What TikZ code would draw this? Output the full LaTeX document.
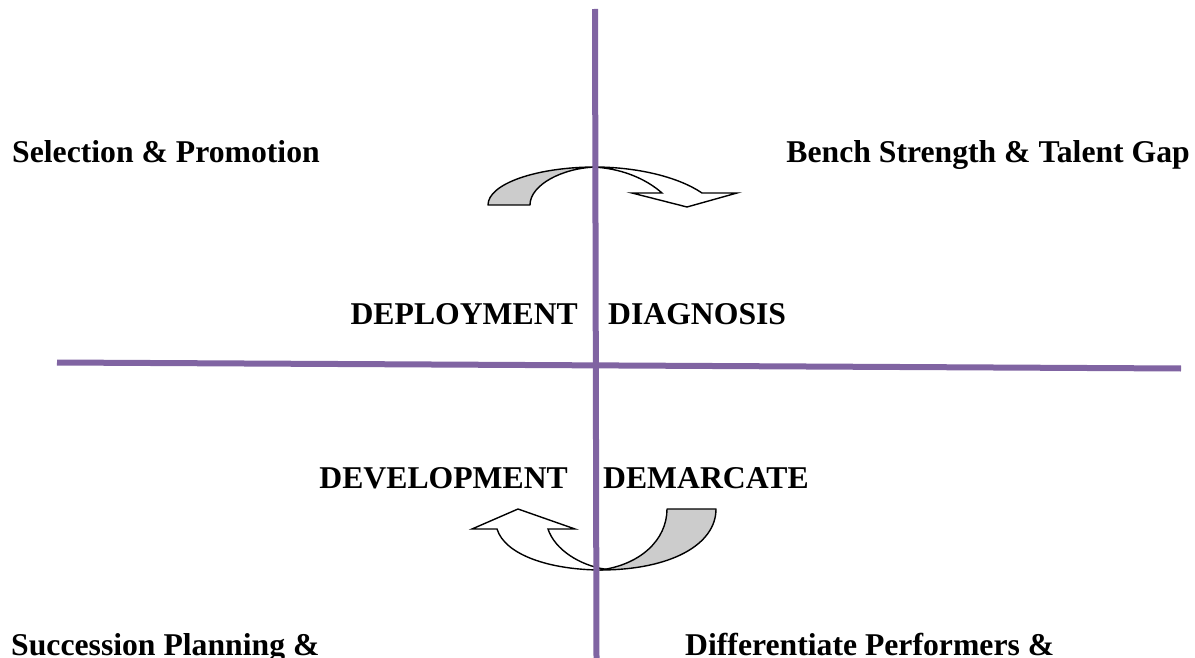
\documentclass[tikz,border=0pt]{standalone}
\usepackage{fontspec}
\setmainfont{Liberation Serif}
\definecolor{axispurple}{HTML}{8064A2}
\definecolor{backgray}{RGB}{204,204,204}
\begin{document}
\begin{tikzpicture}[x=1pt,y=-1pt,
  label/.style={inner sep=0pt,font=\fontsize{31.7}{36}\selectfont\bfseries},
  axis/.style={draw=axispurple,line width=6pt},
  arrowback/.style={draw=black,fill=backgray,line width=1.4pt,line join=round},
  arrowfront/.style={draw=black,fill=white,line width=1.4pt,line join=miter}]
\useasboundingbox (0,0) rectangle (1195,658);

% upper curved arrow (sweeping right, pointing down)
\draw[arrowback] (488,205) .. controls (488,184) and (536,167) .. (596,167)
  .. controls (562,168) and (530,185) .. (530,205) -- cycle;
\draw[arrowfront] (594,167) .. controls (640,167) and (680,178) .. (702,193)
  -- (737,193) -- (687,207) -- (632,193) -- (662,193)
  .. controls (645,178) and (620,168) .. (592,167) -- cycle;

% lower curved arrow (sweeping left, pointing up)
\draw[arrowback] (667,509) -- (716,509) .. controls (716,545) and (670,570) .. (600,570)
  .. controls (640,565) and (667,540) .. (667,509) -- cycle;
\draw[arrowfront] (602,570) .. controls (550,570) and (505,555) .. (497,529)
  -- (472,529) -- (518,509) -- (575,529) -- (548,529)
  .. controls (555,550) and (580,565) .. (604,569) -- cycle;

% quadrant axes
\coordinate (vtop) at (595,9);
\coordinate (vbot) at (596.5,658);
\coordinate (hleft) at (57,362.5);
\coordinate (hright) at (1181,368.5);
\draw[axis] (vtop) -- (vbot);
\draw[axis] (hleft) -- (hright);

% quadrant labels
\node[label,anchor=base west] (selprom) at (12,163) {Selection \& Promotion};
\node[label,anchor=base east] (bench) at (1190,163) {Bench Strength \& Talent Gap};
\node[label,anchor=base east] (deploy) at (578,324) {DEPLOYMENT};
\node[label,anchor=base west] (diag) at (608,324) {DIAGNOSIS};
\node[label,anchor=base east] (devel) at (568,488) {DEVELOPMENT};
\node[label,anchor=base west] (demarc) at (603,488) {DEMARCATE};
\node[label,anchor=base west] (succ) at (11,655) {Succession Planning \&};
\node[label,anchor=base west] (diff) at (685,655) {Differentiate Performers \&};
\end{tikzpicture}
\end{document}
